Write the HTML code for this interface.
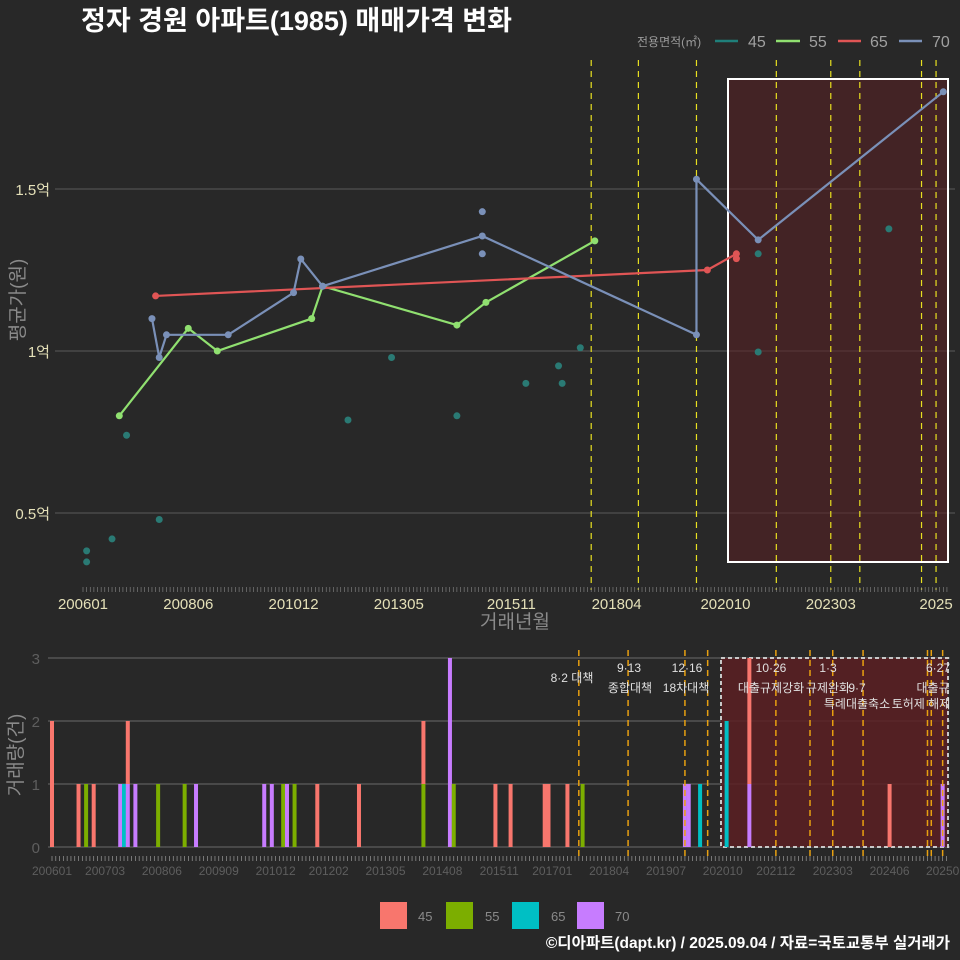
<!DOCTYPE html>
<html><head><meta charset="utf-8">
<style>
html,body{margin:0;padding:0;background:#282828;}
svg{display:block;font-family:"Liberation Sans","Noto Sans CJK KR",sans-serif;}
</style></head>
<body>
<svg id="chart" width="960" height="960" viewBox="0 0 960 960" xmlns="http://www.w3.org/2000/svg">
<rect x="0" y="0" width="960" height="960" fill="#282828"/>
<text x="81" y="30" fill="#ffffff" font-size="27" font-weight="bold">정자 경원 아파트(1985) 매매가격 변화</text>
<g id="legendTop">
<text x="637" y="46" fill="#9a9a9a" font-size="12">전용면적(㎡)</text>
<line x1="715" y1="41" x2="738" y2="41" stroke="#1f7f7a" stroke-width="2.5"/>
<text x="748" y="47" fill="#a0a0a0" font-size="16">45</text>
<line x1="776" y1="41" x2="800" y2="41" stroke="#90e070" stroke-width="2.5"/>
<text x="809" y="47" fill="#a0a0a0" font-size="16">55</text>
<line x1="838" y1="41" x2="861" y2="41" stroke="#e05555" stroke-width="2.5"/>
<text x="870" y="47" fill="#a0a0a0" font-size="16">65</text>
<line x1="899" y1="41" x2="922" y2="41" stroke="#7a90b8" stroke-width="2.5"/>
<text x="932" y="47" fill="#a0a0a0" font-size="16">70</text>
</g>
<g id="priceG"></g>
<g id="volG"></g>
<text transform="translate(24,300) rotate(-90)" text-anchor="middle" fill="#8a8a8a" font-size="19">평균가(원)</text>
<text x="515" y="628" text-anchor="middle" fill="#8a8a8a" font-size="19">거래년월</text>
<text transform="translate(22,755) rotate(-90)" text-anchor="middle" fill="#8a8a8a" font-size="19">거래량(건)</text>
<g>
<rect x="380" y="902" width="27" height="27" fill="#F8766D"/>
<text x="418" y="921" fill="#8a8a8a" font-size="13">45</text>
<rect x="446" y="902" width="27" height="27" fill="#7CAE00"/>
<text x="485" y="921" fill="#8a8a8a" font-size="13">55</text>
<rect x="512" y="902" width="27" height="27" fill="#00BFC4"/>
<text x="551" y="921" fill="#8a8a8a" font-size="13">65</text>
<rect x="577" y="902" width="27" height="27" fill="#C77CFF"/>
<text x="615" y="921" fill="#8a8a8a" font-size="13">70</text>
</g>
<text x="950" y="948" text-anchor="end" fill="#ffffff" font-size="15.5" font-weight="bold">©디아파트(dapt.kr) / 2025.09.04 / 자료=국토교통부 실거래가</text>
</svg>
<script>
// ---- price chart data (months since 2006-01, values in 억) ----
const m45 = [1,1,8,12,21,73,85,103,122,131,132,137,186,186,222];
const v45 = [0.383,0.349,0.42,0.74,0.48,0.787,0.98,0.80,0.90,0.954,0.90,1.01,1.30,0.997,1.377];
const m55 = [10,29,37,63,66,103,111,141];
const v55 = [0.80,1.07,1.0,1.10,1.20,1.08,1.15,1.34];
const m65 = [20,172,180,180];
const v65 = [1.17,1.25,1.30,1.285];
const m70 = [19,21,23,40,58,60,66,110,169,169,186,237];
const v70 = [1.10,0.98,1.05,1.05,1.18,1.284,1.20,1.355,1.05,1.53,1.343,1.80];
const m70extra = [110,110];
const v70extra = [1.43,1.30];
const yTicks = [0.5,1,1.5];
const yTickLabels = ["0.5억","1억","1.5억"];
const xTickMonths = [0,29,58,87,118,147,177,206,235];
const xTickLabels = ["200601","200806","201012","201305","201511","201804","202010","202303","2025"];
const policyTop = [140,153,169,191,206,214,231,235];
// ---- volume chart data ----
const barMonths = [0,7,9,11,18,19,20,22,28,35,38,56,58,61,62,64,70,81,98,105,106,117,121,130,131,136,140,167,168,171,178,184,221,235];
const cnt45 = [2,1,0,1,0,0,1,0,0,0,0,0,0,0,0,0,1,1,1,0,0,1,1,1,1,1,0,0,0,0,0,2,1,0];
const cnt55 = [0,0,1,0,0,0,0,0,1,1,0,0,0,1,0,1,0,0,1,0,1,0,0,0,0,0,1,0,0,0,0,0,0,0];
const cnt65 = [0,0,0,0,0,1,0,0,0,0,0,0,0,0,0,0,0,0,0,0,0,0,0,0,0,0,0,0,0,1,2,0,0,0];
const cnt70 = [0,0,0,0,1,0,1,1,0,0,1,1,1,0,1,0,0,0,0,3,0,0,0,0,0,0,0,1,1,0,0,1,0,1];
const volTicks = [0,1,2,3];
const volLabels = ["0","1","2","3"];
const bxTickMonths = [0,14,29,44,59,73,88,103,118,132,147,162,177,191,206,221,235];
const bxTickLabels = ["200601","200703","200806","200909","201012","201202","201305","201408","201511","201701","201804","201907","202010","202112","202303","202406","20250"];
const policyBottom = [139,152,167,173,191,200,206,214,231,232,235];

const NS="http://www.w3.org/2000/svg";
function mk(parent,tag,attrs,text){const e=document.createElementNS(NS,tag);for(const k in attrs)e.setAttribute(k,attrs[k]);if(text!==undefined)e.textContent=text;parent.appendChild(e);return e;}
const sx=m=>83+m*3.63;
const sy=v=>351-(v-1)*324;
const bsx=m=>52+m*3.79;
const bsy=c=>847-c*63;

const priceG=document.getElementById('priceG');
yTicks.forEach((t,i)=>{
  const g=mk(priceG,'line',{x1:55,x2:955,y1:sy(t),y2:sy(t),stroke:'#5a5a5a','stroke-width':1});
  
  
  const l=mk(priceG,'text',{x:50,y:sy(t)+6,'text-anchor':'end',fill:'#e4e0b8','font-size':15},yTickLabels[i]);
  
  
});
const sr=mk(priceG,'rect',{x:728,y:79,width:220,height:483,fill:'#5a1f22','fill-opacity':0.55,stroke:'#ffffff','stroke-width':2});


policyTop.forEach(m=>{
  const l=mk(priceG,'line',{x1:sx(m),x2:sx(m),y1:60,y2:590,stroke:'#e8e020','stroke-width':1.2,'stroke-dasharray':'6,5'});
  
  
});
for(let m=0;m<=238;m++){
  const t=mk(priceG,'line',{x1:sx(m),x2:sx(m),y1:587,y2:592,stroke:'#8a8a8a','stroke-width':0.6});
  
  
}
xTickMonths.forEach((m,i)=>{
  const l=mk(priceG,'text',{x:sx(m),y:609,'text-anchor':'middle',fill:'#e4e0b8','font-size':15},xTickLabels[i]);
  
  
});
function series(ms,vs,color,name,line){
  if(line){
    const p=mk(priceG,'polyline',{points:ms.map((m,i)=>sx(m)+','+sy(vs[i])).join(' '),fill:'none',stroke:color,'stroke-width':2.2});
    
    
  }
  ms.forEach((m,i)=>{
    const c=mk(priceG,'circle',{cx:sx(m),cy:sy(vs[i]),r:3.5,fill:color});
    
    
  });
}
series(m45,v45,'#2a7a74','45',false);
series(m55,v55,'#90e070','55',true);
series(m65,v65,'#e05555','65',true);
series(m70,v70,'#7a90b8','70',true);
series(m70extra,v70extra,'#7a90b8','70-extra',false);

const volG=document.getElementById('volG');
volTicks.forEach((t,i)=>{
  const g=mk(volG,'line',{x1:48,x2:950,y1:bsy(t),y2:bsy(t),stroke:'#6a6a6a','stroke-width':1});
  
  
  const l=mk(volG,'text',{x:40,y:bsy(t)+6,'text-anchor':'end',fill:'#5e5e5e','font-size':15},volLabels[i]);
  
  
});
const br=mk(volG,'rect',{x:721,y:658,width:227,height:189,fill:'#5a1f22','fill-opacity':0.85,stroke:'#c8c8c8','stroke-width':2,'stroke-dasharray':'4,3'});


barMonths.forEach((m,i)=>{
  let base=0;
  [[cnt70,'#C77CFF','70'],[cnt65,'#00BFC4','65'],[cnt55,'#7CAE00','55'],[cnt45,'#F8766D','45']].forEach(([arr,col,nm])=>{
    const c=arr[i]; if(!c) return;
    const r=mk(volG,'rect',{x:bsx(m)-2,y:bsy(base+c),width:4,height:bsy(base)-bsy(base+c),fill:col});
    
    
    base+=c;
  });
});
policyBottom.forEach(m=>{
  const l=mk(volG,'line',{x1:bsx(m),x2:bsx(m),y1:650,y2:858,stroke:'#e8a010','stroke-width':1.5,'stroke-dasharray':'6,4'});
  
  
});
for(let m=0;m<=236;m++){
  const t=mk(volG,'line',{x1:bsx(m),x2:bsx(m),y1:856,y2:861,stroke:'#9a9a9a','stroke-width':0.7});
  
  
}
bxTickMonths.forEach((m,i)=>{
  const l=mk(volG,'text',{x:bsx(m),y:875,'text-anchor':'middle',fill:'#5e5e5e','font-size':12},bxTickLabels[i]);
  
  
});
const ann=[[572,682,'8·2 대책'],[629,672,'9·13'],[630,692,'종합대책'],[687,672,'12·16'],[686,692,'18차대책'],[771,672,'10·26'],[771,692,'대출규제강화'],[828,672,'1·3'],[828,692,'규제완화'],[857,692,'9·7'],[857,708,'특례대출축소'],[921,708,'토허제 해제'],[938,672,'6·27'],[933,692,'대출규']];
ann.forEach(a=>{
  const t=mk(volG,'text',{x:a[0],y:a[1],'text-anchor':'middle',fill:'#e0e0e0','font-size':12},a[2]);
  
  
});
</script>
</body></html>
